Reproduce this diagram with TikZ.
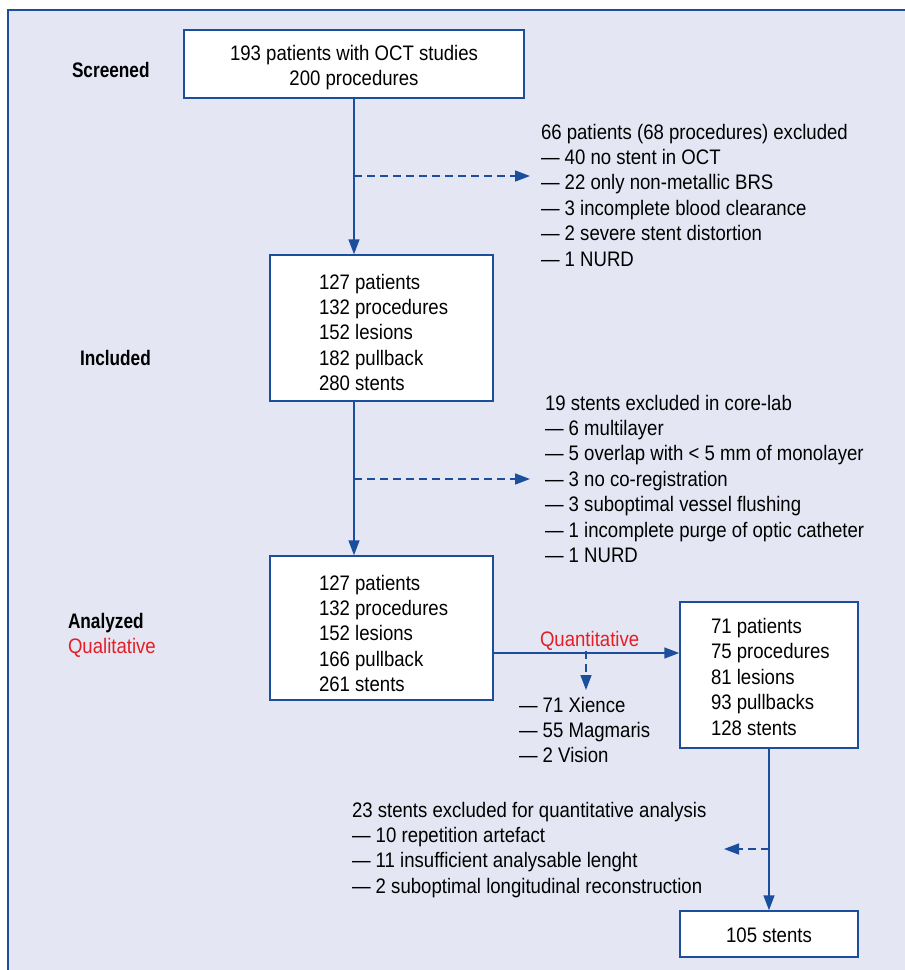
\documentclass[tikz,border=0pt]{standalone}
\usepackage{fontspec}
\setmainfont{Liberation Sans}[FakeStretch=0.885]
\newfontfamily\labelfont{Liberation Sans}[FakeStretch=0.82]
\usetikzlibrary{arrows.meta}
\definecolor{lineblue}{RGB}{28,78,158}
\definecolor{panelfill}{RGB}{228,231,243}
\definecolor{qred}{RGB}{228,30,38}
\begin{document}
\begin{tikzpicture}[x=1pt,y=-1pt,
  box/.style={draw=lineblue, line width=1.5pt, fill=white, inner sep=0pt},
  txt/.style={inner sep=0pt, outer sep=0pt, font=\fontsize{21}{25.4}\selectfont, text=black},
  lbl/.style={inner sep=0pt, outer sep=0pt, font=\labelfont\bfseries\fontsize{21}{25}\selectfont},
  redlbl/.style={inner sep=0pt, outer sep=0pt, font=\fontsize{21}{25}\selectfont, text=qred},
  arr/.style={draw=lineblue, line width=1.5pt, -{Triangle[length=15pt,width=11pt]}},
  darr/.style={draw=lineblue, line width=1.5pt, dash pattern=on 8pt off 5pt, -{Triangle[length=15pt,width=11pt]}}
]
\useasboundingbox (0,0) rectangle (905,970);
% panel
\fill[panelfill] (8,10) rectangle (905,970);
\draw[lineblue, line width=2.5pt] (8,970) -- (8,10) -- (905,10);

% boxes
\node[box, minimum width=340pt, minimum height=68pt] (b1) at (354,64) {};
\node[box, minimum width=223pt, minimum height=146pt] (b2) at (381.5,328) {};
\node[box, minimum width=223pt, minimum height=144pt] (b3) at (381.5,628) {};
\node[box, minimum width=178pt, minimum height=146pt] (b4) at (769,675) {};
\node[box, minimum width=178pt, minimum height=46pt] (b5) at (769,934) {};

% box texts
\node[txt, anchor=base] (t1) at (354,60) {\begin{tabular}[t]{@{}c@{}}193 patients with OCT studies\\200 procedures\end{tabular}};
\node[txt, anchor=base west] (t2) at (319,289) {\begin{tabular}[t]{@{}l@{}}127 patients\\132 procedures\\152 lesions\\182 pullback\\280 stents\end{tabular}};
\node[txt, anchor=base west] (t3) at (319,590) {\begin{tabular}[t]{@{}l@{}}127 patients\\132 procedures\\152 lesions\\166 pullback\\261 stents\end{tabular}};
\node[txt, anchor=base west] (t4) at (711,633.5) {\begin{tabular}[t]{@{}l@{}}71 patients\\75 procedures\\81 lesions\\93 pullbacks\\128 stents\end{tabular}};
\node[txt, anchor=base] (t5) at (769,942) {105 stents};

% side labels
\node[lbl, anchor=base west] (lscr) at (72,77) {Screened};
\node[lbl, anchor=base west] (linc) at (80,365) {Included};
\node[lbl, anchor=base west] (lana) at (68,628) {Analyzed};
\node[redlbl, anchor=base west] (lqual) at (68,653) {Qualitative};

% exclusion texts
\node[txt, anchor=base west] (ex1) at (541,139) {\begin{tabular}[t]{@{}l@{}}66 patients (68 procedures) excluded\\— 40 no stent in OCT\\— 22 only non-metallic BRS\\— 3 incomplete blood clearance\\— 2 severe stent distortion\\— 1 NURD\end{tabular}};
\node[txt, anchor=base west] (ex2) at (545,410) {\begin{tabular}[t]{@{}l@{}}19 stents excluded in core-lab\\— 6 multilayer\\— 5 overlap with < 5 mm of monolayer\\— 3 no co-registration\\— 3 suboptimal vessel flushing\\— 1 incomplete purge of optic catheter\\— 1 NURD\end{tabular}};
\node[txt, anchor=base west] (ex3) at (519,712) {\begin{tabular}[t]{@{}l@{}}— 71 Xience\\— 55 Magmaris\\— 2 Vision\end{tabular}};
\node[txt, anchor=base west] (ex4) at (352,817) {\begin{tabular}[t]{@{}l@{}}23 stents excluded for quantitative analysis\\— 10 repetition artefact\\— 11 insufficient analysable lenght\\— 2 suboptimal longitudinal reconstruction\end{tabular}};

% coordinates for connectors
\coordinate (d1) at (354,176);
\coordinate (d1e) at (530,176);
\coordinate (d2) at (354,479);
\coordinate (d2e) at (530,479);
\coordinate (q) at (586,653);
\coordinate (qe) at (586,690);
\coordinate (d4) at (769,849);
\coordinate (d4e) at (724,849);

% connectors
\draw[arr] (b1.south) -- (b1.south |- b2.north);
\draw[darr] (d1) -- (d1e);
\draw[arr] (b2.south -| b1.south) -- (b1.south |- b3.north);
\draw[darr] (d2) -- (d2e);
\draw[arr] (b3.east |- q) -- (b4.west |- q);
\node[redlbl, anchor=base west] (lquan) at (540,646) {Quantitative};
\draw[darr] ([yshift=2pt]q) -- (qe);
\draw[arr] (b4.south) -- (b5.north);
\draw[darr] (d4) -- (d4e);
\end{tikzpicture}
\end{document}
